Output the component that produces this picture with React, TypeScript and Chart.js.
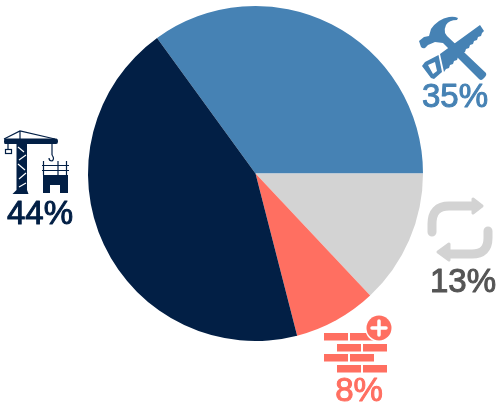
import { Chart, registerables } from 'chart.js';
import { useEffect, useRef } from 'react';

Chart.register(...registerables);

const shares = [35, 13, 8, 44];
const shareLabels = ['35%', '13%', '8%', '44%'];
const sliceColors = ['#4682b4', '#d3d3d3', '#ff6f61', '#021f45'];
const textColors = ['#4682b4', '#555555', '#ff6f61', '#021f45'];

// centre x + baseline of each percent label
const labelAnchors = [
    [455, 107],
    [463, 292],
    [359, 401],
    [40, 224],
];

const HAMMER =
    'M419 41 L424 37 L429 36 L431 29 Q438 19 449 17 Q454 16 458 18 L457 20 Q449 20 446 25 Q444 29 445 33 L447 36 ' +
    'L486 73 Q487 75 485 77 L483 79 Q481 81 479 79 L443 43 L435 42 L428 45 L425 48 Q423 49 421 47 Z';
const SAW =
    'M480 25 L484 31 L482 33 L481 36 L478 37 L477 40 L474 41 L473 44 L470 45 L469 48 L466 49 L465 52 L462 53 ' +
    'L461 56 L458 57 L457 60 L454 61 L453 64 L450 65 L449 68 L446 69 L444 72 L440 54 Z';
const SAW_GRIP = 'M438.5 55 L442 72 L434 79 L431 78 L422 66 L425 62 Z M428 65 L433 74 L437 71 L435 62 Z';

const CRANE =
    'M5 138.5 H56 Q58 138.5 58 141.5 Q58 144 56 144 H27 V190 L28.5 194 H12.5 L16.5 190 V144 H5 Q4 144 4 141.5 Q4 138.5 5 138.5 Z';
const BUILDING = 'M43 175 H68 V193 H60 V185 H50 V193 H43 Z';

const iconPlugin = {
    id: 'icons',
    afterDraw(chart: Chart) {
        const ctx = chart.ctx;
        ctx.save();

        // hammer and saw
        ctx.fillStyle = sliceColors[0];
        ctx.fill(new Path2D(HAMMER));
        ctx.fill(new Path2D(SAW));
        ctx.fill(new Path2D(SAW_GRIP), 'evenodd');

        // crane
        const navy = sliceColors[3];
        ctx.fillStyle = navy;
        ctx.strokeStyle = navy;
        ctx.fill(new Path2D(CRANE));
        ctx.lineWidth = 1.2;
        ctx.stroke(new Path2D('M4 139 L20 131 L55 139 M20 131 V139 M8 144 V149 M52 144 V155'));
        ctx.strokeRect(5.5, 149.5, 6, 4);
        ctx.stroke(new Path2D('M52 155 Q55 159 52 161 Q49 161 49 158'));
        ctx.strokeStyle = '#ffffff';
        ctx.lineWidth = 1.2;
        ctx.stroke(new Path2D('M18 147 L24 152 M19 160 L26 155 M18 164 L25 170 M19 179 L26 173 M19 187 L26 183'));
        ctx.strokeStyle = navy;
        ctx.lineWidth = 1.2;
        ctx.fill(new Path2D(BUILDING));
        ctx.stroke(new Path2D('M43.5 161 V175 M58 161 V175 M66.5 161 V175 M42 165.5 H69 M42 170.5 H69'));

        // recycle arrows
        ctx.strokeStyle = sliceColors[1];
        ctx.fillStyle = sliceColors[1];
        ctx.lineWidth = 9;
        ctx.lineCap = 'round';
        ctx.lineJoin = 'round';
        ctx.stroke(new Path2D('M432 232 V224 Q432 206 449 206 H472'));
        ctx.stroke(new Path2D('M488 231 V238 Q488 254 472 254 H450'));
        ctx.lineWidth = 3;
        const head1 = new Path2D('M473 199 L482 206 L473 213 Z');
        const head2 = new Path2D('M449 244 L438 252 L449 260 Z');
        ctx.fill(head1);
        ctx.stroke(head1);
        ctx.fill(head2);
        ctx.stroke(head2);

        // bricks
        ctx.fillStyle = sliceColors[2];
        [[324, 333], [350, 333], [337, 344], [363, 344], [324, 354], [350, 354], [337, 365], [363, 365]].forEach(
            ([x, y]) => ctx.fillRect(x, y, 24, 7.5),
        );
        ctx.beginPath();
        ctx.arc(379, 328, 14, 0, Math.PI * 2);
        ctx.fillStyle = '#ffffff';
        ctx.fill();
        ctx.beginPath();
        ctx.arc(379, 328, 12.5, 0, Math.PI * 2);
        ctx.fillStyle = sliceColors[2];
        ctx.fill();
        ctx.strokeStyle = '#ffffff';
        ctx.lineWidth = 3.5;
        ctx.lineCap = 'round';
        ctx.stroke(new Path2D('M372 328 H386 M379 321 V335'));

        // percent labels, regular face thickened a little
        ctx.font = '33px "Liberation Sans"';
        ctx.textAlign = 'center';
        ctx.textBaseline = 'alphabetic';
        ctx.lineWidth = 1;
        ctx.lineJoin = 'round';
        shareLabels.forEach((label, i) => {
            ctx.fillStyle = textColors[i];
            ctx.strokeStyle = textColors[i];
            ctx.fillText(label, labelAnchors[i][0], labelAnchors[i][1]);
            ctx.strokeText(label, labelAnchors[i][0], labelAnchors[i][1]);
        });

        ctx.restore();
    },
};

const App: React.FC = () => {
    const chartRef = useRef<HTMLCanvasElement | null>(null);

    useEffect(() => {
        if (!chartRef.current) {
            return;
        }
        document.body.style.margin = '0';

        const chart = new Chart(chartRef.current, {
            type: 'pie',
            data: {
                labels: shareLabels,
                datasets: [
                    {
                        data: shares,
                        backgroundColor: sliceColors,
                        borderWidth: 0,
                    },
                ],
            },
            options: {
                responsive: false,
                animation: false,
                rotation: -36,
                layout: { padding: { left: 88, right: 77, top: 6, bottom: 66 } },
                plugins: {
                    legend: { display: false },
                    tooltip: { enabled: false },
                },
            },
            plugins: [iconPlugin],
        });

        return () => {
            chart.destroy();
        };
    }, []);

    return <canvas ref={chartRef} width={500} height={407} style={{ display: 'block' }} />;
};

export default App;
